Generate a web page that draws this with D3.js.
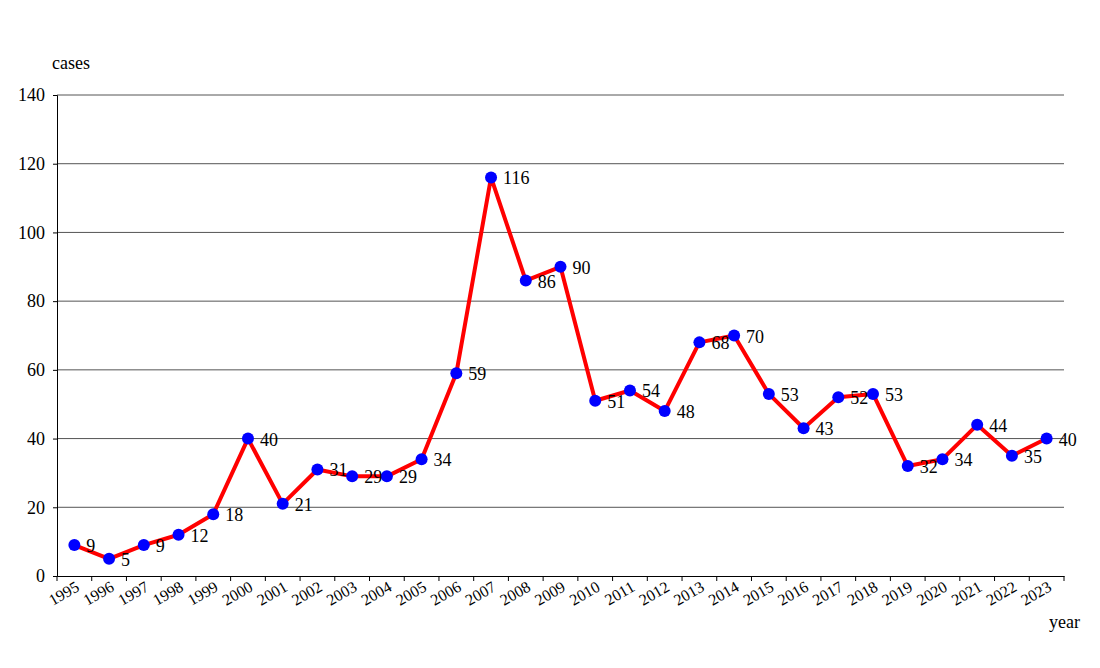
<!DOCTYPE html>
<html><head><meta charset="utf-8">
<script src="https://cdn.jsdelivr.net/npm/d3@7"></script>
<style>body{margin:0;background:#fff}</style></head>
<body><script>
const years = d3.range(1995, 2024).map(String);
const cases = [9,5,9,12,18,40,21,31,29,29,34,59,116,86,90,51,54,48,68,70,53,43,52,53,32,34,44,35,40];
const yTicks = [0,20,40,60,80,100,120,140];

const W = 1100, H = 668;
const m = {left: 57, right: 36, top: 95, bottom: 92};
const font = "'Liberation Serif', serif";

const svg = d3.select("body").append("svg").attr("width", W).attr("height", H)
  .style("font-family", font);

const x = d3.scaleBand().domain(years).range([m.left, W - m.right]);
const y = d3.scaleLinear().domain([0, 140]).range([H - m.bottom, m.top]);
const cx = d => x(d) + x.bandwidth() / 2;

// gridlines
svg.append("g").selectAll("line").data(yTicks.slice(1)).join("line")
  .attr("x1", m.left).attr("x2", W - m.right)
  .attr("y1", d => y(d)).attr("y2", d => y(d))
  .attr("stroke", "#555").attr("stroke-width", 1);

// y axis
const ya = svg.append("g").attr("transform", `translate(${m.left},0)`)
  .call(d3.axisLeft(y).tickValues(yTicks).tickSize(4).tickPadding(8));
ya.select(".domain").attr("stroke", "#000");
ya.selectAll("text").style("font-family", font).style("font-size", "18px").attr("fill", "#000");

// x axis
const xa = svg.append("g").attr("transform", `translate(0,${y(0)})`)
  .call(d3.axisBottom(x).tickSize(0).tickPadding(0));
xa.select(".domain").attr("stroke", "#000");
xa.selectAll("text").style("font-family", font).style("font-size", "16px")
  .attr("fill", "#000").attr("text-anchor", "end")
  .attr("x", 6).attr("y", 14).attr("dy", 0)
  .attr("transform", "rotate(-30,6,14)");
// boundary ticks
svg.append("g").selectAll("line").data(d3.range(years.length + 1)).join("line")
  .attr("x1", i => m.left + i * x.bandwidth()).attr("x2", i => m.left + i * x.bandwidth())
  .attr("y1", y(0)).attr("y2", y(0) + 5).attr("stroke", "#000");

svg.append("text").attr("x", 52).attr("y", 69).text("cases").style("font-size", "18px");
svg.append("text").attr("x", 1049).attr("y", 628).text("year").style("font-size", "18px");

const line = d3.line().x((d, i) => cx(years[i])).y(d => y(d));
svg.append("path").datum(cases).attr("d", line)
  .attr("fill", "none").attr("stroke", "#ff0000").attr("stroke-width", 4)
  .attr("stroke-linejoin", "round");

svg.append("g").selectAll("circle").data(cases).join("circle")
  .attr("cx", (d, i) => cx(years[i])).attr("cy", d => y(d)).attr("r", 6)
  .attr("fill", "#0000ff");

svg.append("g").selectAll("text").data(cases).join("text")
  .attr("x", (d, i) => cx(years[i]) + 12).attr("y", d => y(d) + 7)
  .text(d => d).style("font-size", "18px");
</script></body></html>
